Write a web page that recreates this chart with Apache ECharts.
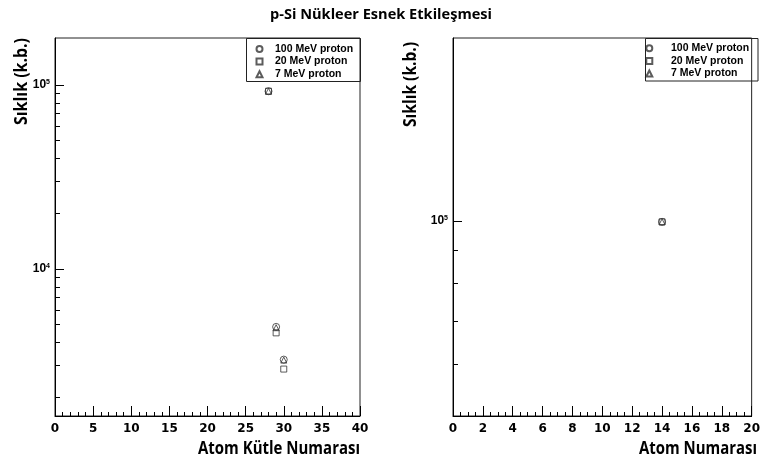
<!DOCTYPE html>
<html><head><meta charset="utf-8">
<script src="https://cdn.jsdelivr.net/npm/echarts@6/dist/echarts.min.js"></script>
<style>html,body{margin:0;padding:0;background:#fff}#c{width:763px;height:460px}</style>
</head><body><div id="c"></div>
<script>
// ---- data ----
const seriesNames = ['100 MeV proton', '20 MeV proton', '7 MeV proton'];
const massNumbers = [28, 29, 30];
const p100Mass = [92500, 4850, 3220];
const p20Mass = [92500, 4500, 2860];
const p7Mass = [92500, 4800, 3200];
const atomicNumbers = [14];
const p100Z = [99700];
const p20Z = [99700];
const p7Z = [99700];
const leftMajorY = [10000, 100000];
const leftMinorY = [2000, 3000, 4000, 5000, 6000, 7000, 8000, 9000, 20000, 30000, 40000, 50000, 60000, 70000, 80000, 90000];
const rightMajorY = [100000];
const rightMinorY = [60000, 70000, 80000, 90000];
const titleText = 'p-Si Nükleer Esnek Etkileşmesi';
const yTitle = 'Sıklık (k.b.)';
const xTitleLeft = 'Atom Kütle Numarası';
const xTitleRight = 'Atom Numarası';

const ctx = document.createElement('canvas').getContext('2d');
function fit(text, font, target) { ctx.font = font; return target / ctx.measureText(text).width; }

const TF = '"Open Sans"';
const titleFont = 'bold 14px ' + TF;
const axFont = 'bold 17px ' + TF;

const L = {left: 55, top: 38, width: 305, height: 378};
const R = {left: 453, top: 38, width: 305, height: 378};

const symStyle = {color: 'rgba(0,0,0,0)', borderColor: '#333', borderWidth: 1};
const symbols = ['circle', 'rect', 'triangle'];
const symSizes = [7, 6, 6];

function pairs(xs, ys) { return xs.map((x, i) => [x, ys[i]]); }

function xAxis(gi, max, interval, split) {
  return {
    type: 'value', gridIndex: gi, min: 0, max: max, interval: interval,
    axisLine: {show: true, onZero: false, lineStyle: {color: '#000', width: 1}},
    axisTick: {show: true, inside: true, length: 10, lineStyle: {color: '#000'}},
    minorTick: {show: true, splitNumber: split, length: 4, lineStyle: {color: '#000'}},
    splitLine: {show: false}, minorSplitLine: {show: false},
    axisLabel: {fontFamily: '"DejaVu Sans"', fontWeight: 'bold', fontSize: 12, color: '#000', margin: 7, showMaxLabel: true, showMinLabel: true, hideOverlap: false}
  };
}
function yMajor(gi, min, max, vals) {
  return {
    type: 'log', logBase: 10, gridIndex: gi, min: min, max: max, position: 'left',
    axisLine: {show: true, lineStyle: {color: '#000', width: 1}},
    axisTick: {show: true, inside: true, length: 9, customValues: vals, lineStyle: {color: '#000'}},
    splitLine: {show: false},
    axisLabel: {
      customValues: vals, margin: 5, color: '#000',
      formatter: v => '{b|10}{s|' + Math.round(Math.log10(v)) + '}',
      rich: {
        b: {fontFamily: '"Liberation Sans"', fontWeight: 'bold', fontSize: 12, color: '#000'},
        s: {fontFamily: '"Liberation Sans"', fontWeight: 'bold', fontSize: 7, color: '#000', verticalAlign: 'top', padding: [0, 0, 5, 0]}
      }
    }
  };
}
function yMinor(gi, min, max, vals) {
  return {
    type: 'log', logBase: 10, gridIndex: gi, min: min, max: max, position: 'left', offset: 0,
    axisLine: {show: false},
    axisTick: {show: true, inside: true, length: 5, customValues: vals, lineStyle: {color: '#000'}},
    splitLine: {show: false},
    axisLabel: {show: false}
  };
}

const massData = [p100Mass, p20Mass, p7Mass];
const zData = [p100Z, p20Z, p7Z];
const series = [];
seriesNames.forEach((n, i) => {
  series.push({name: n, type: 'scatter', xAxisIndex: 0, yAxisIndex: 0, symbol: symbols[i], symbolSize: symSizes[i], itemStyle: symStyle, data: pairs(massNumbers, massData[i])});
});
seriesNames.forEach((n, i) => {
  series.push({name: n, type: 'scatter', xAxisIndex: 1, yAxisIndex: 2, symbol: symbols[i], symbolSize: symSizes[i], itemStyle: symStyle, data: pairs(atomicNumbers, zData[i])});
});

function legend(left, top, padLeft) {
  return {
    data: seriesNames, orient: 'vertical', left: left, top: top, padding: 0,
    itemWidth: 6, itemHeight: 6, itemGap: 1.6, selectedMode: false,
    textStyle: {fontFamily: '"Liberation Sans"', fontWeight: 'bold', fontSize: 10.5, color: '#000', lineHeight: 11, padding: [0, 0, 0, padLeft]}
  };
}

const chart = echarts.init(document.getElementById('c'), null, {renderer: 'canvas'});
chart.setOption({
  animation: false,
  backgroundColor: '#fff',
  grid: [
    Object.assign({show: true, borderColor: '#222', borderWidth: 1, backgroundColor: 'transparent'}, L),
    Object.assign({show: true, borderColor: '#222', borderWidth: 1, backgroundColor: 'transparent'}, R)
  ],
  xAxis: [xAxis(0, 40, 5, 5), xAxis(1, 20, 2, 4)],
  yAxis: [yMajor(0, 1590, 180000, leftMajorY), yMinor(0, 1590, 180000, leftMinorY),
          yMajor(1, 49900, 192000, rightMajorY), yMinor(1, 49900, 192000, rightMinorY)],
  legend: [legend(255.5, 43.5, 7.5), legend(645.3, 42.8, 13.7)],
  series: series,
  graphic: [
    {type: 'rect', shape: {x: 246.5, y: 38.5, width: 114, height: 43}, style: {fill: 'rgba(0,0,0,0)', stroke: '#222', lineWidth: 1}, z: 10},
    {type: 'rect', shape: {x: 645.5, y: 38.5, width: 112.5, height: 42.5}, style: {fill: 'rgba(0,0,0,0)', stroke: '#222', lineWidth: 1}, z: 10},
    {type: 'text', x: 381, y: 15, scaleX: fit(titleText, titleFont, 222), style: {text: titleText, font: titleFont, fill: '#000', align: 'center', verticalAlign: 'middle'}},
    {type: 'text', x: 360, y: 449, scaleX: fit(xTitleLeft, axFont, 162), style: {text: xTitleLeft, font: axFont, fill: '#000', align: 'right', verticalAlign: 'middle'}},
    {type: 'text', x: 757, y: 449, scaleX: fit(xTitleRight, axFont, 118), style: {text: xTitleRight, font: axFont, fill: '#000', align: 'right', verticalAlign: 'middle'}},
    {type: 'text', x: 22, y: 38, rotation: Math.PI / 2, scaleX: fit(yTitle, axFont, 87), style: {text: yTitle, font: axFont, fill: '#000', align: 'right', verticalAlign: 'middle'}},
    {type: 'text', x: 411, y: 42, rotation: Math.PI / 2, scaleX: fit(yTitle, axFont, 85), style: {text: yTitle, font: axFont, fill: '#000', align: 'right', verticalAlign: 'middle'}}
  ]
});
</script>
</body></html>
